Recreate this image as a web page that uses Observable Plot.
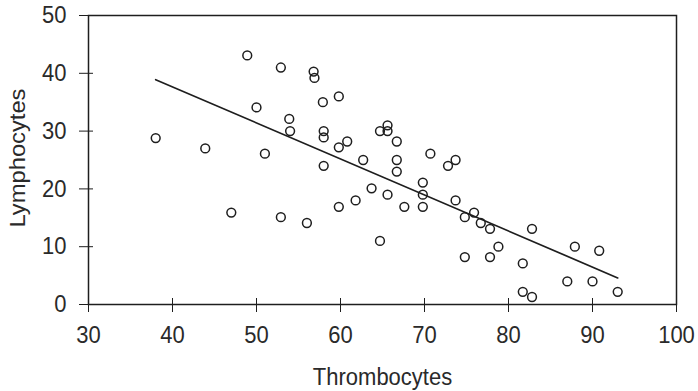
<!DOCTYPE html>
<html>
<head>
<meta charset="utf-8">
<script src="https://cdn.jsdelivr.net/npm/d3@7"></script>
<script src="https://cdn.jsdelivr.net/npm/@observablehq/plot@0.6"></script>
<style>
  html, body { margin: 0; padding: 0; background: #fff; }
  #chart { width: 698px; height: 391px; }
</style>
</head>
<body>
<div id="chart"></div>
<script>
const thrombocytes = [38.0, 43.9, 47.0, 48.9, 50.0, 51.0, 52.9, 52.9, 53.9, 54.0, 56.0, 56.8, 56.9, 57.9, 58.0, 58.0, 58.0, 59.8, 59.8, 59.8, 60.8, 61.8, 62.7, 63.7, 64.7, 65.6, 65.6, 64.7, 65.6, 66.7, 66.7, 66.7, 67.6, 69.8, 69.8, 69.8, 70.7, 72.8, 73.7, 73.7, 74.8, 74.8, 75.9, 76.7, 77.8, 77.8, 78.8, 81.7, 81.7, 82.8, 82.8, 87.0, 87.9, 90.0, 90.8, 93.0];
const lymphocytes  = [28.8, 27.0, 15.9, 43.1, 34.1, 26.1, 41.0, 15.1, 32.1, 30.0, 14.1, 40.3, 39.2, 35.0, 30.0, 28.9, 24.0, 36.0, 27.2, 16.9, 28.2, 18.0, 25.0, 20.1, 30.0, 31.0, 30.0, 11.0, 19.0, 28.2, 25.0, 23.0, 16.9, 21.1, 19.0, 16.9, 26.1, 24.0, 25.0, 18.0, 15.1, 8.2, 15.9, 14.1, 13.1, 8.2, 10.0, 7.1, 2.2, 13.1, 1.3, 4.0, 10.0, 4.0, 9.3, 2.2];
const fitX = [38, 93];
const fitY = [38.9, 4.6];
const xTicks = [30, 40, 50, 60, 70, 80, 90, 100];
const yTicks = [0, 10, 20, 30, 40, 50];
const xLabel = "Thrombocytes";
const yLabel = "Lymphocytes";

const points = thrombocytes.map((t, i) => ({t, l: lymphocytes[i]}));
const fit = fitX.map((t, i) => ({t, l: fitY[i]}));

const ink = "#1e1e1e";
const txt = "#2a2a2a";
const chart = Plot.plot({
  width: 698,
  height: 391,
  marginLeft: 88,
  marginRight: 22,
  marginTop: 15,
  marginBottom: 87,
  style: {fontFamily: "'Liberation Sans', Arial, sans-serif", fontSize: "22px", color: txt, background: "#fff"},
  x: {domain: [30, 100], ticks: xTicks},
  y: {domain: [0, 50], ticks: yTicks},
  marks: [
    Plot.frame({stroke: ink, strokeWidth: 1.5}),
    Plot.axisX({ticks: xTicks, tickSize: 8, tickPadding: 13, label: null, stroke: ink, fill: txt, fontSize: 22}),
    Plot.axisX({ticks: xTicks, tickSize: 6, dy: -6, text: null, label: null, stroke: ink}),
    Plot.axisY({ticks: yTicks, tickSize: 9, tickPadding: 13, label: null, stroke: ink, fill: txt, fontSize: 22}),
    Plot.axisY({ticks: yTicks, tickSize: 5, dx: 5, text: null, label: null, stroke: ink}),
    Plot.line(fit, {x: "t", y: "l", stroke: ink, strokeWidth: 1.7}),
    Plot.dot(points, {x: "t", y: "l", r: 4.4, stroke: ink, strokeWidth: 1.5, fill: "none"}),
    Plot.text([xLabel], {frameAnchor: "bottom", lineAnchor: "bottom", textAnchor: "middle", dy: 80, text: d => d, fontSize: 22, fill: txt}),
    Plot.text([yLabel], {frameAnchor: "left", textAnchor: "middle", lineAnchor: "middle", dx: -71, dy: -2, rotate: -90, text: d => d, fontSize: 22, fill: txt})
  ]
});
// the scanned original has slightly tall lettering: stretch glyphs vertically
d3.select(chart).selectAll("text").each(function () {
  const t = this.getAttribute("transform") || "";
  if (!/translate/.test(t)) return;
  const rotated = /rotate\(\s*-?90/.test(t);
  this.setAttribute("transform", t + (rotated ? " scale(1.08,1)" : " scale(1,1.1)"));
});
document.getElementById("chart").appendChild(chart);
</script>
</body>
</html>
